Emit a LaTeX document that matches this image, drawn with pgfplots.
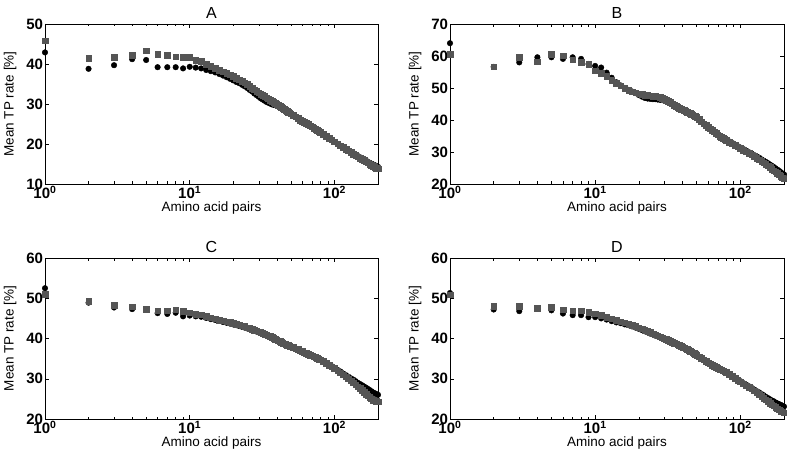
\documentclass[border=0pt]{standalone}
\usepackage{pgfplots}
\pgfplotsset{compat=1.18}
\usepackage{pgfplotstable}
\usepackage{fontspec}
\setmainfont{Liberation Sans}
\definecolor{sqgray}{RGB}{85,85,85}

\pgfplotstableread{
x c s
1 42.9 45.8
2 38.8 41.4
3 39.7 41.7
4 41.2 42.2
5 41.0 43.3
6 39.2 42.4
7 39.2 42.2
8 39.2 41.8
9 38.9 41.7
10 39.3 41.7
11 39.1 41.0
12 38.9 40.7
13 38.5 40.0
14 38.2 39.5
15 37.9 38.9
16 37.5 38.5
17 37.1 38.1
18 36.7 37.7
19 36.3 37.3
20 35.9 36.9
21 35.5 36.5
22 35.2 36.1
23 34.8 35.7
24 34.4 35.3
25 34.0 34.9
26 33.5 34.5
27 33.1 34.0
28 32.6 33.6
29 32.2 33.2
30 31.8 32.8
31 31.4 32.5
32 31.1 32.2
33 30.8 31.9
34 30.5 31.6
35 30.3 31.3
36 30.1 31.0
37 29.9 30.7
38 29.8 30.5
39 29.7 30.2
40 29.6 30.0
41 29.4 29.7
42 29.3 29.5
43 29.1 29.2
44 28.9 29.0
45 28.6 28.7
46 28.4 28.5
47 28.1 28.2
48 27.9 28.0
49 27.7 27.8
50 27.5 27.6
52 27.1 27.2
54 26.7 26.8
56 26.3 26.4
58 26.0 26.0
60 25.7 25.7
62 25.4 25.4
64 25.1 25.2
66 24.8 24.9
68 24.5 24.6
70 24.2 24.3
72 23.9 24.0
74 23.6 23.7
76 23.4 23.5
78 23.1 23.2
80 22.9 23.0
84 22.4 22.5
88 21.9 22.0
92 21.4 21.5
96 21.0 21.1
100 20.5 20.6
105 20.0 20.1
110 19.6 19.6
115 19.2 19.2
120 18.8 18.7
125 18.4 18.3
130 18.0 17.9
135 17.7 17.5
140 17.3 17.2
145 17.0 16.8
150 16.7 16.5
155 16.4 16.2
160 16.1 15.9
165 15.8 15.6
170 15.6 15.3
175 15.3 15.0
180 15.1 14.7
185 14.9 14.4
190 14.7 14.2
195 14.5 14.0
200 14.3 13.8
}\tabA

\pgfplotstableread{
x c s
1 64.0 60.6
2 56.6 56.7
3 58.0 59.6
4 59.6 58.2
5 59.6 60.5
6 59.1 60.1
7 59.6 58.8
8 59.1 58.0
9 57.5 57.4
10 56.9 55.4
11 56.4 54.6
12 54.8 53.7
13 53.2 52.4
14 51.8 51.5
15 50.8 50.7
16 50.0 50.0
17 49.4 49.4
18 48.9 48.9
19 48.4 48.5
20 47.8 48.2
21 47.3 48.0
22 46.9 47.8
23 46.7 47.7
24 46.6 47.6
25 46.5 47.5
26 46.5 47.4
27 46.4 47.3
28 46.3 47.1
29 46.2 46.8
30 46.1 46.5
31 45.9 46.2
32 45.7 45.9
33 45.4 45.5
34 45.0 45.1
35 44.6 44.7
36 44.3 44.4
37 44.0 44.0
38 43.7 43.7
39 43.4 43.4
40 43.2 43.2
41 43.0 43.0
42 42.8 42.8
43 42.5 42.5
44 42.3 42.3
45 42.1 42.1
46 41.9 41.9
47 41.7 41.7
48 41.4 41.4
49 41.1 41.1
50 40.8 40.8
52 40.2 40.2
54 39.5 39.5
56 38.9 38.9
58 38.3 38.3
60 37.8 37.8
62 37.3 37.3
64 36.9 36.8
66 36.4 36.3
68 36.0 35.8
70 35.6 35.4
72 35.2 35.0
74 34.8 34.6
76 34.5 34.3
78 34.2 34.0
80 33.9 33.7
84 33.3 33.1
88 32.8 32.6
92 32.3 32.1
96 31.8 31.6
100 31.4 31.2
105 30.9 30.6
110 30.4 30.1
115 29.9 29.6
120 29.5 29.1
125 29.0 28.6
130 28.6 28.1
135 28.2 27.6
140 27.7 27.1
145 27.3 26.6
150 26.9 26.2
155 26.5 25.7
160 26.1 25.2
165 25.7 24.7
170 25.3 24.2
175 24.9 23.8
180 24.5 23.3
185 24.1 22.9
190 23.7 22.4
195 23.3 22.0
200 23.0 21.6
}\tabB

\pgfplotstableread{
x c s
1 52.5 51.0
2 48.9 49.3
3 47.7 48.3
4 47.3 47.9
5 47.2 47.3
6 46.3 46.9
7 46.1 46.9
8 46.4 47.2
9 45.5 46.8
10 45.7 46.4
11 45.5 46.1
12 45.4 45.9
13 45.1 45.5
14 44.8 45.2
15 44.6 44.9
16 44.4 44.6
17 44.1 44.4
18 43.9 44.2
19 43.7 44.0
20 43.5 43.8
21 43.3 43.6
22 43.1 43.4
23 42.9 43.2
24 42.7 43.0
25 42.5 42.7
26 42.3 42.5
27 42.1 42.3
28 41.9 42.1
29 41.7 41.9
30 41.5 41.7
31 41.3 41.5
32 41.1 41.3
33 40.9 41.1
34 40.7 40.9
35 40.5 40.7
36 40.3 40.5
37 40.1 40.3
38 39.9 40.1
39 39.7 39.9
40 39.5 39.7
41 39.3 39.5
42 39.1 39.3
43 39.0 39.1
44 38.8 38.9
45 38.6 38.7
46 38.5 38.6
47 38.3 38.4
48 38.2 38.3
49 38.0 38.1
50 37.9 38.0
52 37.7 37.8
54 37.5 37.5
56 37.2 37.3
58 37.0 37.0
60 36.8 36.8
62 36.5 36.5
64 36.3 36.3
66 36.1 36.1
68 35.9 35.9
70 35.7 35.7
72 35.5 35.5
74 35.3 35.3
76 35.1 35.1
78 34.9 34.9
80 34.7 34.7
84 34.3 34.3
88 33.9 33.8
92 33.5 33.4
96 33.1 33.0
100 32.7 32.6
105 32.2 32.0
110 31.8 31.5
115 31.3 31.0
120 30.9 30.5
125 30.5 30.0
130 30.1 29.5
135 29.8 29.0
140 29.4 28.5
145 29.0 28.0
150 28.7 27.6
155 28.4 27.1
160 28.1 26.6
165 27.8 26.2
170 27.5 25.8
175 27.2 25.4
180 26.9 25.0
185 26.6 24.7
190 26.4 24.5
195 26.2 24.4
200 26.0 24.3
}\tabC

\pgfplotstableread{
x c s
1 51.3 50.9
2 47.2 48.0
3 46.8 48.0
4 47.4 47.6
5 47.0 47.8
6 46.2 47.2
7 45.8 46.9
8 45.8 46.9
9 45.3 46.6
10 45.3 46.2
11 45.0 45.8
12 44.7 45.3
13 44.3 44.9
14 44.0 44.5
15 43.8 44.2
16 43.5 43.9
17 43.3 43.6
18 43.0 43.3
19 42.7 43.0
20 42.4 42.7
21 42.1 42.4
22 41.8 42.1
23 41.5 41.8
24 41.2 41.5
25 41.0 41.2
26 40.7 40.9
27 40.5 40.7
28 40.3 40.4
29 40.1 40.2
30 39.9 40.0
31 39.7 39.8
32 39.5 39.6
33 39.3 39.4
34 39.1 39.1
35 38.9 38.9
36 38.7 38.7
37 38.5 38.5
38 38.3 38.3
39 38.1 38.1
40 37.9 37.9
41 37.7 37.7
42 37.5 37.5
43 37.3 37.3
44 37.1 37.1
45 36.8 36.9
46 36.6 36.7
47 36.4 36.5
48 36.2 36.3
49 36.0 36.1
50 35.8 35.9
52 35.4 35.5
54 35.0 35.1
56 34.6 34.7
58 34.3 34.3
60 34.0 34.0
62 33.7 33.7
64 33.4 33.4
66 33.1 33.1
68 32.9 32.9
70 32.6 32.6
72 32.4 32.4
74 32.2 32.2
76 32.0 32.0
78 31.8 31.8
80 31.6 31.6
84 31.1 31.1
88 30.7 30.6
92 30.2 30.1
96 29.8 29.7
100 29.4 29.3
105 28.9 28.8
110 28.5 28.3
115 28.1 27.9
120 27.7 27.5
125 27.3 27.0
130 26.9 26.6
135 26.6 26.1
140 26.2 25.7
145 25.9 25.2
150 25.5 24.8
155 25.2 24.4
160 24.9 24.0
165 24.6 23.6
170 24.4 23.3
175 24.1 23.0
180 23.9 22.6
185 23.7 22.3
190 23.5 22.0
195 23.3 21.8
200 23.1 21.6
}\tabD

\pgfplotsset{
  every axis/.append style={
    scale only axis, width=333pt, height=160pt,
    anchor=south west, clip=false,
    xmin=1, xmax=200,
    xtick={1,10,100},
    xticklabels={\textbf{10}\textsuperscript{\textbf{0}},\textbf{10}\textsuperscript{\textbf{1}},\textbf{10}\textsuperscript{\textbf{2}}},
    ticklabel style={font=\fontsize{15}{17}\selectfont\bfseries},
    yticklabel style={/pgf/number format/assume math mode=true, xshift=1.5pt},
    xticklabel style={yshift=1.5pt},
    xlabel={Amino acid pairs},
    ylabel={Mean TP rate [\%]},
    label style={font=\fontsize{13.5}{15}\selectfont},
    title style={font=\fontsize{16}{18}\selectfont, yshift=-4pt},
    xlabel style={yshift=4pt},
    ylabel style={yshift=3pt},
    axis line style={black, line width=0.6pt},
    tick style={black, line width=0.5pt},
    major tick length=4pt, minor tick length=2.5pt,
    tick align=inside,
  },
}
\tikzset{
  circ/.style={only marks, mark=*, mark size=2.8pt, mark options={draw=black, fill=black}},
  sq/.style={only marks, mark=square*, mark size=2.8pt, mark options={draw=sqgray, fill=sqgray}},
}

\begin{document}
\begin{tikzpicture}
\useasboundingbox (0pt,0pt) rectangle (787pt,458pt);

\begin{semilogxaxis}[at={(45pt,274pt)}, title={A}, ymin=10, ymax=50, ytick={10,20,30,40,50}]
\addplot[circ] table[x=x, y=c] {\tabA};
\addplot[sq] table[x=x, y=s] {\tabA};
\end{semilogxaxis}

\begin{semilogxaxis}[at={(450pt,274pt)}, width=334pt, title={B}, ymin=20, ymax=70, ytick={20,30,40,50,60,70}]
\addplot[circ] table[x=x, y=c] {\tabB};
\addplot[sq] table[x=x, y=s] {\tabB};
\end{semilogxaxis}

\begin{semilogxaxis}[at={(45pt,39pt)}, height=161pt, title={C}, ymin=20, ymax=60, ytick={20,30,40,50,60}]
\addplot[circ] table[x=x, y=c] {\tabC};
\addplot[sq] table[x=x, y=s] {\tabC};
\end{semilogxaxis}

\begin{semilogxaxis}[at={(450pt,39pt)}, width=334pt, height=161pt, title={D}, ymin=20, ymax=60, ytick={20,30,40,50,60}]
\addplot[circ] table[x=x, y=c] {\tabD};
\addplot[sq] table[x=x, y=s] {\tabD};
\end{semilogxaxis}
\end{tikzpicture}
\end{document}
